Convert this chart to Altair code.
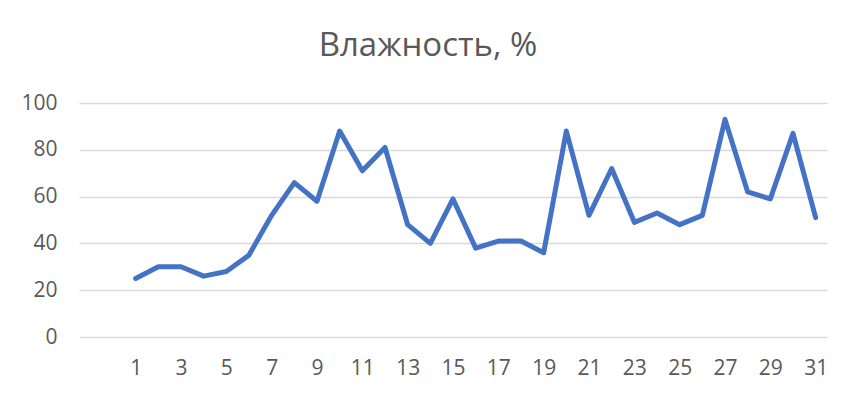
import altair as alt
import pandas as pd

# day of month and relative humidity
days = [1, 2, 3, 4, 5, 6, 7, 8, 9, 10, 11, 12, 13, 14, 15, 16,
        17, 18, 19, 20, 21, 22, 23, 24, 25, 26, 27, 28, 29, 30, 31]
humidity = [25, 30, 30, 26, 28, 35, 52, 66, 58, 88, 71, 81, 48, 40, 59, 38,
            41, 41, 36, 88, 52, 72, 49, 53, 48, 52, 93, 62, 59, 87, 51]
x_ticks = [1, 3, 5, 7, 9, 11, 13, 15, 17, 19, 21, 23, 25, 27, 29, 31]
y_ticks = [0, 20, 40, 60, 80, 100]

df = pd.DataFrame({'day': days, 'humidity': humidity})

FONT = 'Open Sans'
GREY = '#595959'

chart = alt.Chart(df).mark_line(
    color='#4472C4', strokeWidth=5, strokeCap='round', strokeJoin='round'
).encode(
    x=alt.X('day:Q',
            scale=alt.Scale(domain=[-1.5, 31.5], nice=False, zero=False),
            axis=alt.Axis(title=None, values=x_ticks, grid=False, ticks=False,
                          domain=False, labelPadding=20, labelFontSize=21,
                          labelColor=GREY, labelFont=FONT)),
    y=alt.Y('humidity:Q',
            scale=alt.Scale(domain=[0, 100], nice=False),
            axis=alt.Axis(title=None, values=y_ticks, grid=True, gridColor='#d9d9d9',
                          gridWidth=1.5, ticks=False, domain=False, labelPadding=22,
                          labelFontSize=21, labelColor=GREY, labelFont=FONT))
).properties(
    width=748,
    height=234,
    autosize=alt.AutoSizeParams(type='none'),
    padding={'left': 71, 'top': 95, 'right': 22, 'bottom': 57},
    title=alt.TitleParams('Влажность, %', fontSize=33, font=FONT, color=GREY,
                          fontWeight='normal', anchor='middle', offset=29, dx=-25)
).configure_view(stroke=None)

chart.save("out.html", embed_options={"renderer": "svg", "actions": False})
